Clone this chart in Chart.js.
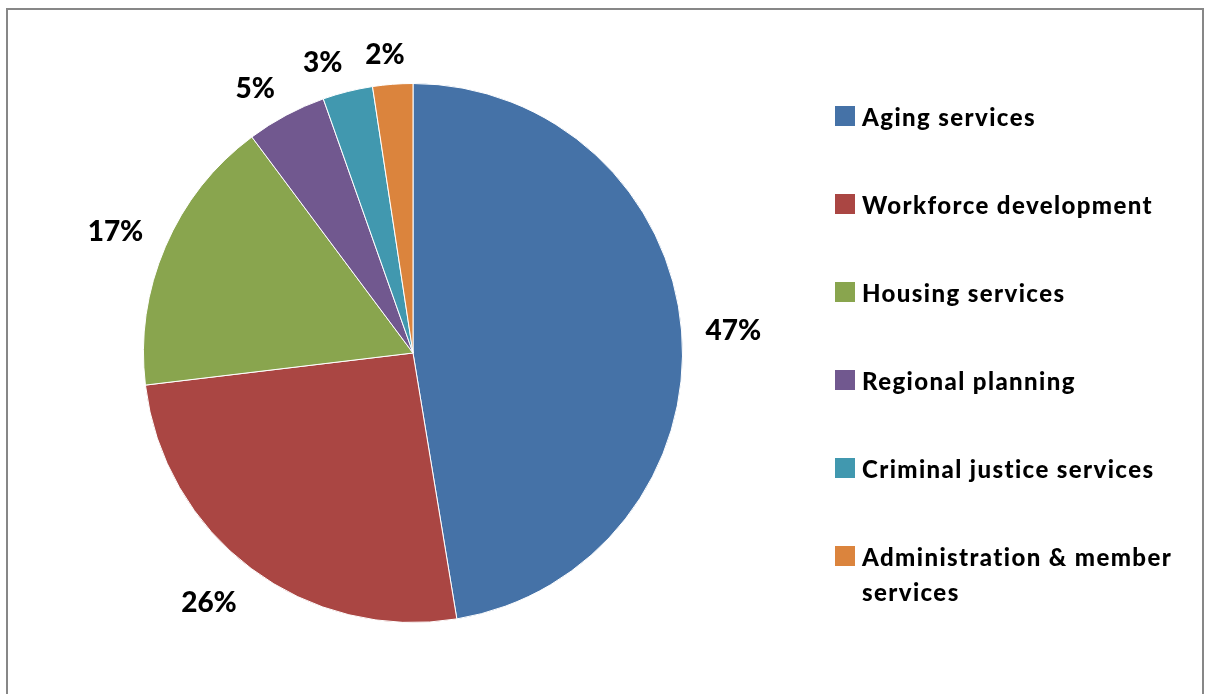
<!DOCTYPE html>
<html>
<head>
<meta charset="utf-8">
<script src="https://cdn.jsdelivr.net/npm/chart.js@4/dist/chart.umd.min.js"></script>
<style>
    html, body { margin: 0; padding: 0; background: #fff; }
    #wrap { position: relative; width: 1209px; height: 694px; overflow: hidden; font-family: Lato, "Open Sans", sans-serif; }
    #frame { position: absolute; left: 6px; top: 8px; width: 1198px; height: 700px; border: 2px solid #878787; border-bottom: none; box-sizing: border-box; }
    #cv { position: absolute; left: 0; top: 0; }
    #legend { position: absolute; left: 835px; top: 0; }
    .item { position: absolute; left: 0; white-space: nowrap; font-weight: 900; font-size: 24px; letter-spacing: 1.4px; line-height: 35px; color: #000; }
    .box { position: absolute; left: 0; top: 7px; width: 20px; height: 20px; }
    .txt { position: absolute; left: 27px; top: 0; }
</style>
</head>
<body>
<div id="wrap">
    <div id="frame"></div>
    <canvas id="cv" width="1209" height="694"></canvas>
    <div id="legend"></div>
</div>
<script>
// datos del grafico
var categorias = ["Aging services", "Workforce development", "Housing services", "Regional planning", "Criminal justice services", "Administration & member services"];
var porcentajes = [47.4, 25.7, 16.7, 4.8, 3.0, 2.4];
var colores = ["#4572A7", "#AA4643", "#89A54E", "#71588F", "#4198AF", "#DB843D"];
// lineas de la leyenda (la ultima en dos renglones)
var leyendaLineas = [["Aging services"], ["Workforce development"], ["Housing services"], ["Regional planning"], ["Criminal justice services"], ["Administration & member", "services"]];

// Plugin para dibujar los porcentajes fuera del pastel
// (la esquina del texto mas cercana al centro queda sobre el radio medio)
var etiquetasFuera = {
    id: "etiquetasFuera",
    afterDatasetsDraw: function (chart) {
        var ctx = chart.ctx;
        var meta = chart.getDatasetMeta(0);
        var size = 28;
        ctx.save();
        ctx.font = "900 " + size + "px Lato, 'Open Sans', sans-serif";
        ctx.fillStyle = "#000";
        ctx.textAlign = "center";
        ctx.textBaseline = "alphabetic";
        meta.data.forEach(function (arc, i) {
            var p = arc.getProps(["x", "y", "startAngle", "endAngle", "outerRadius"], true);
            var mid = (p.startAngle + p.endAngle) / 2;
            var texto = Math.round(porcentajes[i]) + "%";
            var w = ctx.measureText(texto).width;
            var h = size * 0.72; // altura de mayusculas
            var c = Math.cos(mid), s = Math.sin(mid);
            var r = p.outerRadius + 24;
            var fx = Math.sign(c) * Math.min(1, Math.abs(c) * 4);
            var fy = Math.sign(s) * Math.min(1, Math.abs(s) * 4);
            var x = p.x + c * r + fx * w / 2;
            var y = p.y + s * r + fy * h / 2 + 4;
            ctx.fillText(texto, x, y + h / 2);
        });
        ctx.restore();
    }
};

var ctx = document.getElementById("cv").getContext("2d");
var chart = new Chart(ctx, {
    type: "pie",
    data: {
        labels: categorias,
        datasets: [
            {
                data: porcentajes,
                backgroundColor: colores,
                borderColor: "#ffffff",
                borderWidth: 1,
            },
        ],
    },
    options: {
        responsive: false,
        animation: false,
        layout: { padding: { left: 143, right: 526, top: 83, bottom: 71 } },
        plugins: {
            legend: { display: false },
            tooltip: { enabled: false },
        },
    },
    plugins: [etiquetasFuera],
});

// Leyenda en HTML
var legend = document.getElementById("legend");
var tops = [99, 187, 275, 363, 451, 539];
leyendaLineas.forEach(function (lineas, i) {
    var item = document.createElement("div");
    item.className = "item";
    item.style.top = tops[i] + "px";
    var box = document.createElement("div");
    box.className = "box";
    box.style.background = colores[i];
    var txt = document.createElement("div");
    txt.className = "txt";
    txt.innerHTML = lineas.map(function (l) { return l.replace("&", "&amp;"); }).join("<br>");
    item.appendChild(box);
    item.appendChild(txt);
    legend.appendChild(item);
});
</script>
</body>
</html>
